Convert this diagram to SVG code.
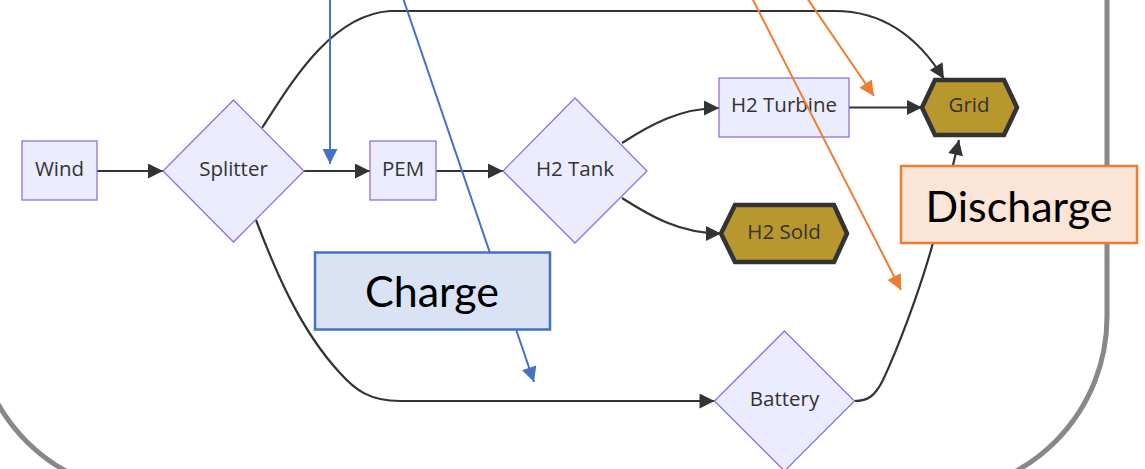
<svg xmlns="http://www.w3.org/2000/svg" width="1145" height="469" viewBox="0 0 1145 469">
<style>
.n{fill:#ECECFF;stroke:#9370DB;stroke-width:1.3}
.h{fill:#B9972F;stroke:#333333;stroke-width:4.5;stroke-linejoin:miter}
.t{font-family:"Open Sans","DejaVu Sans",sans-serif;font-size:20.5px;fill:#333333;text-anchor:middle}
.e{fill:none;stroke:#333333;stroke-width:2.2}
.blue{fill:none;stroke:#4472C4;stroke-width:2}
.orange{fill:none;stroke:#ED7D31;stroke-width:2}
.lbl{font-family:Lato,"Open Sans",sans-serif;font-size:43px;fill:#000000;text-anchor:middle}
</style>
<defs>
<marker id="ab" viewBox="0 0 10 10" refX="10" refY="5" markerWidth="16" markerHeight="15" markerUnits="userSpaceOnUse" orient="auto"><path d="M0,0 L10,5 L0,10 z" fill="#333333"/></marker>
<marker id="mb" viewBox="0 0 10 10" refX="10" refY="5" markerWidth="16" markerHeight="15" markerUnits="userSpaceOnUse" orient="auto"><path d="M0,0 L10,5 L0,10 z" fill="#4472C4"/></marker>
<marker id="mo" viewBox="0 0 10 10" refX="10" refY="5" markerWidth="16" markerHeight="15" markerUnits="userSpaceOnUse" orient="auto"><path d="M0,0 L10,5 L0,10 z" fill="#ED7D31"/></marker>
</defs>
<rect width="1145" height="469" fill="#FFFFFF"/>
<rect id="frame" x="-25" y="-300" width="1132" height="793" rx="176" ry="176" fill="none" stroke="#888888" stroke-width="5"/>
<g id="connectors">
<path class="e" d="M97,171 L163,171" marker-end="url(#ab)"/>
<path class="e" d="M304,171 L370,171" marker-end="url(#ab)"/>
<path class="e" d="M436,171 L503,171" marker-end="url(#ab)"/>
<path class="e" d="M622,143 C650,125 680,108 719,108" marker-end="url(#ab)"/>
<path class="e" d="M622,198 C650,216 680,233.5 721,233.5" marker-end="url(#ab)"/>
<path class="e" d="M849,107.5 L922,107.5" marker-end="url(#ab)"/>
<path class="e" d="M262,128 C290,85 330,15 390,11 L835,11 C885,11 920,40 944,79" marker-end="url(#ab)"/>
<path class="e" d="M256,220 C275,270 300,330 340,373 C355,390 370,401 400,401 L714.5,401" marker-end="url(#ab)"/>
<path class="e" d="M854.5,401 C868,401 875,396 883,380 C898,348 918,295 931,250 C942,210 952,170 959,140" marker-end="url(#ab)"/>
</g>
<g id="wind"><rect class="n" x="22" y="141" width="75" height="59"/><text class="t" x="59.5" y="175.5">Wind</text></g>
<g id="splitter"><polygon class="n" points="233.5,100 304,171 233.5,242 163,171"/><text class="t" x="233.5" y="176">Splitter</text></g>
<g id="pem"><rect class="n" x="370" y="141" width="66" height="59"/><text class="t" x="403" y="175.5">PEM</text></g>
<g id="h2tank"><polygon class="n" points="575,98 647,171 575,243 503,171"/><text class="t" x="575" y="176">H2 Tank</text></g>
<g id="h2turbine"><rect class="n" x="719" y="78" width="130" height="59"/><text class="t" x="784" y="112">H2 Turbine</text></g>
<g id="h2sold"><polygon class="h" points="721,233.5 735,205 834,205 847,233.5 834,262 735,262"/><text class="t" x="784" y="238.5">H2 Sold</text></g>
<g id="grid"><polygon class="h" points="922,107.5 935,80 1004,80 1017,107.5 1004,135 935,135"/><text class="t" x="969" y="112">Grid</text></g>
<g id="battery"><polygon class="n" points="784.5,331 854.5,401 784.5,471 714.5,401"/><text class="t" x="784.5" y="405.5">Battery</text></g>
<g id="annotations">
<path class="blue" d="M330,-2 L330,164" marker-end="url(#mb)"/>
<path class="blue" d="M403,-2 L534,382" marker-end="url(#mb)"/>
<path class="orange" d="M752,-2 L901,290" marker-end="url(#mo)"/>
<path class="orange" d="M807,-2 L874,96" marker-end="url(#mo)"/>
</g>
<g id="charge"><rect x="315" y="252.5" width="235" height="77" fill="#DAE3F3" stroke="#4472C4" stroke-width="2.5"/><text class="lbl" x="432" y="307">Charge</text></g>
<g id="discharge"><rect x="901" y="166" width="236" height="77" fill="#FBE5D6" stroke="#ED7D31" stroke-width="2.5"/><text class="lbl" x="1019" y="221.5">Discharge</text></g>
</svg>
